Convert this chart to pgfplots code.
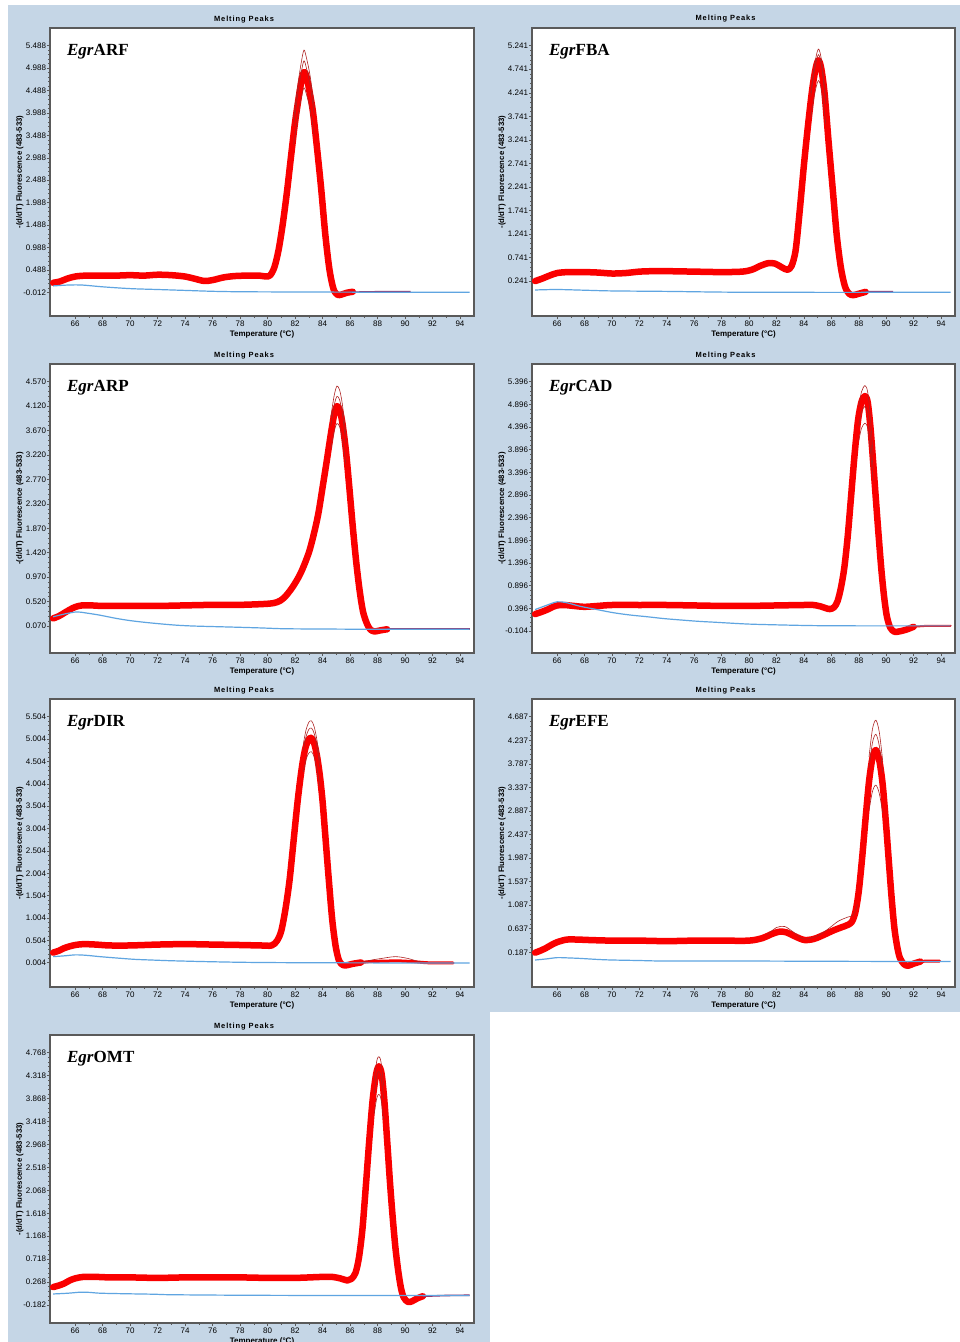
\documentclass[border=0pt]{standalone}
\usepackage{fontspec}
\setmainfont{Liberation Sans}
\newfontfamily\timesf{Liberation Serif}
\usepackage{pgfplots}
\pgfplotsset{compat=1.18}
\usepackage{pgfplotstable}

\definecolor{panelbg}{RGB}{197,214,230}
\definecolor{bandred}{RGB}{250,0,0}
\definecolor{tracered}{RGB}{175,35,35}
\definecolor{ctrlblue}{RGB}{95,165,225}
\definecolor{tailpurple}{RGB}{150,45,100}
\definecolor{framegray}{RGB}{90,90,90}

% ---------------- EgrARF ----------------
\pgfplotstableread{
T v
64.4 0.20
64.9 0.23
65.4 0.29
66.0 0.34
66.8 0.36
68.0 0.36
69.0 0.36
70.0 0.37
71.0 0.36
72.0 0.38
73.0 0.37
74.0 0.34
74.7 0.29
75.4 0.24
76.0 0.26
76.8 0.32
77.6 0.35
78.5 0.36
79.4 0.36
79.9 0.34
80.2 0.37
80.5 0.55
80.8 0.93
81.1 1.50
81.4 2.20
81.7 3.00
82.0 3.78
82.3 4.40
82.5 4.76
82.65 4.90
82.8 4.84
83.0 4.55
83.3 4.02
83.6 3.20
83.9 2.30
84.2 1.28
84.5 0.50
84.8 0.06
85.1 -0.07
85.4 -0.06
85.8 -0.02
86.2 0.00
}\mA
\pgfplotstableread{
T p q r
81.9 3.86 3.69 3.28
82.2 4.61 4.41 3.90
82.45 5.11 4.89 4.32
82.65 5.39 5.15 4.55
82.85 5.19 4.96 4.38
83.1 4.81 4.60 4.07
83.4 4.12 3.94 3.49
}\tA
\pgfplotstableread{
T v
64.4 0.13
65.5 0.15
66.5 0.15
68.0 0.11
70.0 0.07
72.0 0.05
74.0 0.03
76.0 0.01
78.0 0.00
82.0 -0.005
88.0 -0.01
94.7 -0.01
}\bA

% ---------------- EgrFBA ----------------
\pgfplotstableread{
T v
64.4 0.24
64.9 0.29
65.4 0.35
66.0 0.41
66.8 0.43
68.0 0.43
69.0 0.42
70.0 0.40
71.0 0.41
72.0 0.44
73.0 0.45
74.0 0.45
76.0 0.44
78.0 0.43
79.5 0.44
80.2 0.48
80.8 0.56
81.4 0.62
81.9 0.61
82.4 0.53
82.8 0.48
83.1 0.56
83.4 0.90
83.7 1.75
84.0 2.70
84.3 3.55
84.6 4.30
84.85 4.75
85.05 4.93
85.25 4.78
85.5 4.25
85.8 3.20
86.1 2.20
86.4 1.20
86.7 0.52
87.0 0.12
87.3 -0.03
87.6 -0.06
88.0 -0.03
88.5 0.01
}\mB
\pgfplotstableread{
T p q r
84.5 4.24 4.15 3.70
84.75 4.79 4.68 4.17
85.05 5.17 5.05 4.50
85.3 4.90 4.78 4.27
85.6 4.09 4.00 3.57
}\tB
\pgfplotstableread{
T v
64.4 0.05
66.0 0.06
68.0 0.045
70.0 0.03
74.0 0.02
78.0 0.005
82.0 0.00
94.7 0.00
}\bB

% ---------------- EgrARP ----------------
\pgfplotstableread{
T v
64.4 0.21
64.8 0.25
65.2 0.31
65.6 0.37
66.0 0.42
66.5 0.45
67.2 0.45
68.0 0.44
70.0 0.44
72.0 0.44
74.0 0.45
76.0 0.46
78.0 0.46
80.0 0.48
80.7 0.51
81.2 0.59
81.8 0.78
82.4 1.04
83.0 1.42
83.4 1.80
83.7 2.15
84.0 2.62
84.3 3.10
84.6 3.60
84.85 3.97
85.05 4.12
85.25 4.05
85.45 3.80
85.7 3.30
85.95 2.62
86.2 1.90
86.45 1.25
86.7 0.72
86.95 0.33
87.25 0.10
87.5 0.00
87.8 -0.03
88.2 -0.01
88.7 0.01
}\mC
\pgfplotstableread{
T p q r
84.6 3.92 3.75 3.33
84.85 4.32 4.14 3.66
85.05 4.49 4.30 3.80
85.25 4.41 4.23 3.74
85.45 4.14 3.96 3.51
85.7 3.59 3.44 3.05
}\tC
\pgfplotstableread{
T v
64.4 0.24
65.2 0.29
66.1 0.33
66.8 0.31
67.8 0.27
69.0 0.21
70.0 0.17
71.0 0.14
72.2 0.11
73.4 0.085
74.6 0.07
76.0 0.06
77.5 0.05
79.5 0.035
81.2 0.02
84.0 0.015
88.0 0.01
94.7 0.01
}\bC

% ---------------- EgrCAD ----------------
\pgfplotstableread{
T v
64.4 0.27
64.8 0.31
65.3 0.37
65.7 0.43
66.0 0.46
66.5 0.47
67.2 0.45
68.0 0.43
69.0 0.45
70.0 0.47
72.0 0.47
74.0 0.47
76.0 0.46
78.0 0.45
80.0 0.45
82.0 0.46
84.0 0.47
84.7 0.47
85.2 0.44
85.6 0.40
85.9 0.38
86.2 0.42
86.45 0.55
86.7 0.85
86.95 1.30
87.2 2.00
87.45 2.90
87.7 3.80
87.95 4.55
88.2 4.95
88.45 5.08
88.65 4.95
88.85 4.40
89.05 3.62
89.25 2.80
89.45 2.00
89.65 1.25
89.85 0.65
90.05 0.22
90.3 -0.03
90.6 -0.12
91.0 -0.11
91.5 -0.07
92.0 -0.01
}\mD
\pgfplotstableread{
T p q r
88.0 4.84 4.42 4.09
88.2 5.17 4.73 4.37
88.45 5.31 4.85 4.48
88.65 5.17 4.73 4.37
88.85 4.60 4.20 3.89
89.05 3.78 3.46 3.21
}\tD
\pgfplotstableread{
T v
64.4 0.37
65.2 0.46
66.0 0.54
66.7 0.52
67.7 0.44
68.9 0.37
70.1 0.30
71.3 0.25
72.6 0.21
73.8 0.17
75.0 0.14
76.3 0.11
77.5 0.09
79.9 0.05
82.3 0.03
84.8 0.015
88.0 0.01
94.7 0.01
}\bD

% ---------------- EgrDIR ----------------
\pgfplotstableread{
T v
64.4 0.23
64.8 0.27
65.2 0.33
65.6 0.37
66.0 0.40
66.6 0.42
67.5 0.41
68.5 0.39
70.0 0.39
72.0 0.41
74.0 0.42
76.0 0.41
78.0 0.40
79.5 0.39
80.3 0.39
80.7 0.50
81.0 0.72
81.3 1.20
81.6 1.85
81.9 2.75
82.2 3.65
82.5 4.38
82.75 4.80
83.0 5.00
83.2 5.03
83.4 4.90
83.6 4.62
83.8 4.20
84.0 3.62
84.2 2.85
84.45 1.88
84.7 0.98
84.95 0.38
85.2 0.05
85.5 -0.05
85.8 -0.05
86.2 -0.02
86.8 0.01
}\mE
\pgfplotstableread{
T v
86.8 0.01
87.5 0.03
88.5 0.04
89.5 0.045
90.5 0.03
91.3 0.01
92.0 0.00
93.5 0.00
}\rE
\pgfplotstableread{
T p q r
82.6 4.89 4.75 4.27
82.8 5.21 5.06 4.55
83.0 5.38 5.22 4.69
83.2 5.41 5.25 4.72
83.4 5.27 5.12 4.60
83.6 4.97 4.82 4.34
83.8 4.51 4.38 3.95
}\tE
\pgfplotstableread{
T v
86.8 0.01
87.5 0.06
88.3 0.10
89.3 0.14
90.2 0.10
91.0 0.03
91.5 0.01
}\sE
\pgfplotstableread{
T v
64.4 0.14
65.3 0.16
66.0 0.18
66.8 0.17
67.8 0.14
69.0 0.11
70.3 0.08
71.5 0.065
72.8 0.05
74.0 0.04
75.3 0.03
77.8 0.015
80.0 0.008
82.8 0.004
88.0 0.00
94.7 0.00
}\bE

% ---------------- EgrEFE ----------------
\pgfplotstableread{
T v
64.4 0.18
64.8 0.22
65.2 0.27
65.6 0.33
66.0 0.38
66.7 0.43
67.5 0.43
68.5 0.42
70.0 0.41
72.0 0.41
74.0 0.40
76.0 0.41
78.0 0.41
80.0 0.41
81.0 0.46
81.6 0.53
82.2 0.58
82.7 0.57
83.2 0.51
83.7 0.45
84.1 0.42
84.7 0.44
85.2 0.49
85.7 0.55
86.2 0.61
86.7 0.66
87.2 0.71
87.5 0.77
87.75 0.95
88.0 1.35
88.25 2.00
88.5 2.75
88.75 3.45
89.0 3.90
89.25 4.05
89.5 3.85
89.75 3.38
90.0 2.60
90.2 1.90
90.4 1.22
90.6 0.65
90.8 0.30
91.0 0.08
91.3 -0.04
91.6 -0.07
92.0 -0.03
92.5 0.01
}\mF
\pgfplotstableread{
T p q r
88.75 3.92 3.70 2.90
89.0 4.45 4.19 3.26
89.25 4.62 4.35 3.38
89.5 4.39 4.13 3.22
89.75 3.83 3.62 2.85
}\tF
\pgfplotstableread{
T v
81.3 0.52
82.0 0.66
82.6 0.68
83.2 0.58
84.0 0.44
85.0 0.50
85.8 0.64
86.5 0.78
87.2 0.86
87.6 0.90
87.9 1.10
}\sF
\pgfplotstableread{
T v
64.4 0.04
65.2 0.06
66.0 0.085
66.8 0.08
67.7 0.07
69.0 0.05
70.0 0.04
72.0 0.03
74.0 0.02
80.0 0.02
86.0 0.015
94.7 0.01
}\bF

% ---------------- EgrOMT ----------------
\pgfplotstableread{
T v
64.4 0.17
64.8 0.20
65.2 0.24
65.6 0.30
66.0 0.34
66.6 0.37
67.5 0.37
68.5 0.36
70.0 0.36
72.0 0.35
74.0 0.36
76.0 0.36
78.0 0.36
80.0 0.35
82.0 0.35
84.0 0.37
84.7 0.37
85.3 0.34
85.8 0.30
86.1 0.33
86.4 0.45
86.65 0.75
86.9 1.30
87.15 2.15
87.4 3.05
87.65 3.85
87.9 4.35
88.1 4.50
88.3 4.35
88.5 3.82
88.7 3.05
88.9 2.25
89.1 1.55
89.3 0.95
89.5 0.50
89.7 0.16
89.9 -0.03
90.2 -0.12
90.5 -0.11
90.9 -0.05
91.3 -0.01
}\mG
\pgfplotstableread{
T p q r
87.75 4.22 3.96 3.56
87.95 4.61 4.32 3.88
88.1 4.69 4.40 3.95
88.25 4.59 4.30 3.86
88.45 4.12 3.86 3.47
}\tG
\pgfplotstableread{
T v
64.4 0.035
65.5 0.05
66.4 0.07
67.1 0.065
67.8 0.05
69.5 0.04
71.7 0.03
73.0 0.02
78.0 0.01
85.0 0.005
94.7 0.005
}\bG

\pgfplotsset{
  mp/.style={
    scale only axis, width=424pt, height=288pt,
    xmin=64.17, xmax=95.02,
    xtick={66,68,70,72,74,76,78,80,82,84,86,88,90,92,94},
    minor x tick num=1, minor y tick num=4,
    tick pos=left, tick align=outside,
    major tick length=3pt, minor tick length=1.6pt,
    every tick/.style={framegray, line width=0.5pt},
    axis line style={framegray, line width=1.2pt},
    axis background/.style={fill=white},
    tick label style={font=\fontsize{8}{9}\selectfont, /pgf/number format/assume math mode=true},
    xticklabel style={yshift=2pt},
    yticklabel style={xshift=2.5pt, /pgf/number format/.cd, fixed, fixed zerofill, precision=3, assume math mode=true},
    xlabel={Temperature (°C)},
    xlabel style={font=\fontsize{8}{9}\selectfont\bfseries, yshift=2pt},
    ylabel={-(d/dT) Fluorescence (483-533)},
    ylabel style={font=\fontsize{7.8}{9}\selectfont\bfseries, at={(rel axis cs:-0.0708,0.5)}, anchor=center},
    title={Melting Peaks},
    title style={font=\fontsize{7.5}{9}\selectfont\bfseries\addfontfeature{LetterSpace=12}, at={(0.5,1)}, anchor=base, yshift=1pt, xshift=-18pt},
  },
  band/.style={bandred, line width=6.5pt, smooth, line join=round, line cap=round},
  thinband/.style={bandred, line width=3pt, smooth, line join=round, line cap=round},
  trace/.style={tracered, line width=0.6pt, smooth},
  ctrl/.style={ctrlblue, line width=1.2pt, smooth},
  tail/.style={tailpurple, line width=1.6pt},
}
\newcommand{\gene}[1]{\node[anchor=base west, inner sep=0pt, font=\timesf\fontsize{17}{18}\selectfont\bfseries] at (rel axis cs:0.04,0.906) {\textit{Egr}#1};}

\begin{document}
\begin{tikzpicture}
\useasboundingbox (0,0) rectangle (960pt,-1342pt);
\fill[panelbg] (8pt,-5pt) rectangle (960pt,-1012pt);
\fill[panelbg] (8pt,-1011pt) rectangle (490pt,-1342pt);

% A: ARF
\begin{axis}[mp, at={(50pt,-316pt)}, anchor=south west,
  ymin=-0.541, ymax=5.883,
  ytick={-0.012,0.488,0.988,1.488,1.988,2.488,2.988,3.488,3.988,4.488,4.988,5.488}]
\addplot[band] table[x=T,y=v]{\mA};
\addplot[tail] coordinates {(86.0,-0.01) (88.0,0.0) (90.4,0.0)};
\addplot[trace] table[x=T,y=p]{\tA};
\addplot[trace] table[x=T,y=q]{\tA};
\addplot[trace] table[x=T,y=r]{\tA};
\addplot[ctrl] table[x=T,y=v]{\bA};
\gene{ARF}
\end{axis}

% B: FBA
\begin{axis}[mp, width=423pt, at={(532pt,-316pt)}, anchor=south west,
  ymin=-0.503, ymax=5.617,
  ytick={0.241,0.741,1.241,1.741,2.241,2.741,3.241,3.741,4.241,4.741,5.241}]
\addplot[band] table[x=T,y=v]{\mB};
\addplot[tail] coordinates {(88.5,0.01) (89.0,0.015) (90.5,0.015)};
\addplot[trace] table[x=T,y=p]{\tB};
\addplot[trace] table[x=T,y=q]{\tB};
\addplot[trace] table[x=T,y=r]{\tB};
\addplot[ctrl] table[x=T,y=v]{\bB};
\gene{FBA}
\end{axis}

% C: ARP
\begin{axis}[mp, height=289pt, at={(50pt,-653pt)}, anchor=south west,
  ymin=-0.427, ymax=4.896,
  ytick={0.070,0.520,0.970,1.420,1.870,2.320,2.770,3.220,3.670,4.120,4.570}]
\addplot[band] table[x=T,y=v]{\mC};
\addplot[tail] coordinates {(88.7,0.01) (91.0,0.01) (94.7,0.01)};
\addplot[trace] table[x=T,y=p]{\tC};
\addplot[trace] table[x=T,y=q]{\tC};
\addplot[trace] table[x=T,y=r]{\tC};
\addplot[ctrl] table[x=T,y=v]{\bC};
\gene{ARP}
\end{axis}

% D: CAD
\begin{axis}[mp, width=423pt, height=289pt, at={(532pt,-653pt)}, anchor=south west,
  ymin=-0.589, ymax=5.786,
  ytick={-0.104,0.396,0.896,1.396,1.896,2.396,2.896,3.396,3.896,4.396,4.896,5.396}]
\addplot[band] table[x=T,y=v]{\mD};
\addplot[thinband, line width=2pt] coordinates {(92.0,-0.01) (93.0,0.01) (94.7,0.01)};
\addplot[trace] table[x=T,y=p]{\tD};
\addplot[trace] table[x=T,y=q]{\tD};
\addplot[trace] table[x=T,y=r]{\tD};
\addplot[ctrl] table[x=T,y=v]{\bD};
\gene{CAD}
\end{axis}

% E: DIR
\begin{axis}[mp, at={(50pt,-987pt)}, anchor=south west,
  ymin=-0.539, ymax=5.90,
  ytick={0.004,0.504,1.004,1.504,2.004,2.504,3.004,3.504,4.004,4.504,5.004,5.504}]
\addplot[band] table[x=T,y=v]{\mE};
\addplot[thinband] table[x=T,y=v]{\rE};
\addplot[trace] table[x=T,y=v]{\sE};
\addplot[trace] table[x=T,y=p]{\tE};
\addplot[trace] table[x=T,y=q]{\tE};
\addplot[trace] table[x=T,y=r]{\tE};
\addplot[ctrl] table[x=T,y=v]{\bE};
\gene{DIR}
\end{axis}

% F: EFE
\begin{axis}[mp, width=423pt, at={(532pt,-987pt)}, anchor=south west,
  ymin=-0.476, ymax=5.025,
  ytick={0.187,0.637,1.087,1.537,1.987,2.437,2.887,3.337,3.787,4.237,4.687}]
\addplot[band] table[x=T,y=v]{\mF};
\addplot[thinband] coordinates {(92.5,0.01) (93.0,0.02) (93.9,0.02)};
\addplot[trace] table[x=T,y=v]{\sF};
\addplot[trace] table[x=T,y=p]{\tF};
\addplot[trace] table[x=T,y=q]{\tF};
\addplot[trace] table[x=T,y=r]{\tF};
\addplot[ctrl] table[x=T,y=v]{\bF};
\gene{EFE}
\end{axis}

% G: OMT
\begin{axis}[mp, at={(50pt,-1323pt)}, anchor=south west,
  ymin=-0.535, ymax=5.115,
  ytick={-0.182,0.268,0.718,1.168,1.618,2.068,2.518,2.968,3.418,3.868,4.318,4.768}]
\addplot[band] table[x=T,y=v]{\mG};
\addplot[tail] coordinates {(91.3,-0.01) (93.0,0.005) (94.7,0.01)};
\addplot[trace] table[x=T,y=p]{\tG};
\addplot[trace] table[x=T,y=q]{\tG};
\addplot[trace] table[x=T,y=r]{\tG};
\addplot[ctrl] table[x=T,y=v]{\bG};
\gene{OMT}
\end{axis}
\end{tikzpicture}
\end{document}
